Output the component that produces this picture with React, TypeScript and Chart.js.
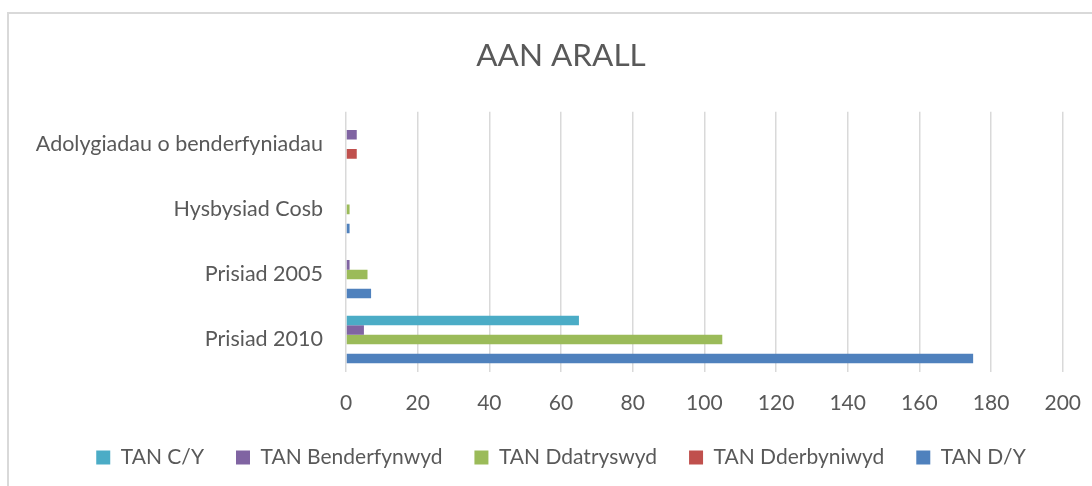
import React, { useEffect, useRef } from "react";
import { Chart, registerables } from "chart.js";

Chart.register(...registerables);

const categories = [
  "Adolygiadau o benderfyniadau",
  "Hysbysiad Cosb",
  "Prisiad 2005",
  "Prisiad 2010",
];

const seriesNames = ["TAN C/Y", "TAN Benderfynwyd", "TAN Ddatryswyd", "TAN Dderbyniwyd", "TAN D/Y"];
const tanCY = [0, 0, 0, 65];
const tanBenderfynwyd = [3, 0, 1, 5];
const tanDdatryswyd = [0, 1, 6, 105];
const tanDderbyniwyd = [3, 0, 0, 0];
const tanDY = [0, 1, 7, 175];
const seriesColors = ["#4BACC6", "#8064A2", "#9BBB59", "#C0504D", "#4F81BD"];

const xMin = 0;
const xMax = 200;
const xStep = 20;

const TEXT = "#595959";
const FAMILY = "Lato, 'Open Sans', sans-serif";

export default function App() {
  const ref = useRef<HTMLCanvasElement | null>(null);

  useEffect(() => {
    if (!ref.current) return;
    const values = [tanCY, tanBenderfynwyd, tanDdatryswyd, tanDderbyniwyd, tanDY];
    const chart = new Chart(ref.current, {
      type: "bar",
      data: {
        labels: categories,
        datasets: seriesNames.map((name, i) => ({
          label: name,
          data: values[i],
          backgroundColor: seriesColors[i],
          borderWidth: 0,
          categoryPercentage: 0.733,
          barPercentage: 1,
          yAxisID: "y",
        })),
      },
      options: {
        indexAxis: "y",
        responsive: false,
        animation: false,
        layout: { padding: { left: 22, right: 0, top: 0, bottom: 20 } },
        plugins: {
          title: {
            display: true,
            text: "AAN ARALL",
            color: TEXT,
            font: { family: FAMILY, size: 31.5, weight: "normal", lineHeight: 1.2 },
            padding: { top: 37, bottom: 37 },
          },
          legend: {
            position: "bottom",
            labels: {
              boxWidth: 14,
              boxHeight: 14,
              padding: 32,
              color: TEXT,
              font: { family: FAMILY, size: 21 },
            },
          },
          tooltip: { enabled: false },
        },
        scales: {
          x: {
            min: xMin,
            max: xMax,
            ticks: { stepSize: xStep, color: TEXT, font: { family: FAMILY, size: 21 }, padding: 19 },
            grid: { color: "#d9d9d9", lineWidth: 1.5, drawTicks: false },
            border: { display: false },
            afterFit: (s: any) => {
              s.height = 43;
            },
          },
          y: {
            ticks: { color: TEXT, font: { family: FAMILY, size: 21.5 }, padding: 23 },
            grid: { display: false, drawTicks: false },
            border: { display: false },
            afterFit: (s: any) => {
              s.width = 324;
            },
          },
          yRight: {
            type: "category",
            position: "right",
            labels: categories,
            ticks: { display: false },
            grid: { display: false, drawTicks: false },
            border: { display: false },
            afterFit: (s: any) => {
              s.width = 32;
            },
          },
        },
      },
    });
    return () => chart.destroy();
  }, []);

  return (
    <div style={{ position: "absolute", left: 0, top: 0, width: 1092, height: 486, overflow: "hidden", background: "#fff" }}>
      <div
        style={{
          position: "absolute",
          left: 7,
          top: 12,
          width: 1200,
          height: 600,
          border: "2px solid #d9d9d9",
        }}
      />
      <canvas ref={ref} width={1100} height={498} style={{ position: "absolute", left: 0, top: 0, width: 1100, height: 498 }} />
    </div>
  );
}
